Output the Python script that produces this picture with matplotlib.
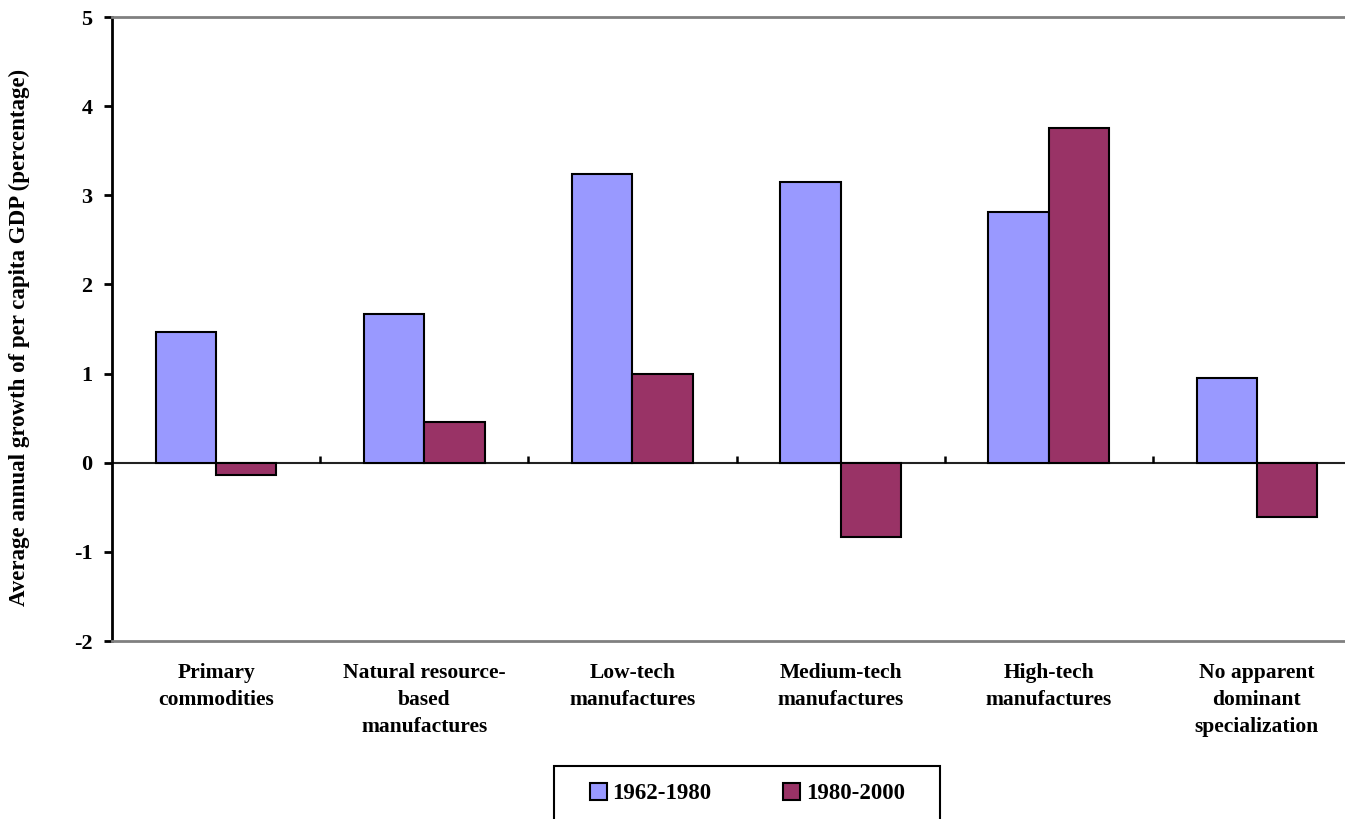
import numpy as np
import matplotlib.pyplot as plt
from matplotlib.patches import Patch, Rectangle

categories = ["Primary\ncommodities", "Natural resource-\nbased\nmanufactures",
              "Low-tech\nmanufactures", "Medium-tech\nmanufactures",
              "High-tech\nmanufactures", "No apparent\ndominant\nspecialization"]
growth_1962_1980 = [1.47, 1.67, 3.24, 3.15, 2.81, 0.95]
growth_1980_2000 = [-0.14, 0.46, 1.00, -0.83, 3.75, -0.61]
series_names = ["1962-1980", "1980-2000"]
y_ticks = [-2, -1, 0, 1, 2, 3, 4, 5]

plt.rcParams['font.family'] = ['Liberation Serif', 'DejaVu Serif']
plt.rcParams['font.weight'] = 'bold'
plt.rcParams['axes.unicode_minus'] = False

fig = plt.figure(figsize=(13.45, 8.19), dpi=100)
ax = fig.add_axes([0.0833, 0.2173, 0.9286, 0.7619])

x = np.arange(len(categories))
w = 0.29
ax.bar(x - w / 2, growth_1962_1980, w, color="#9999FF", edgecolor="black", linewidth=1.5, zorder=3)
ax.bar(x + w / 2, growth_1980_2000, w, color="#993366", edgecolor="black", linewidth=1.5, zorder=3)

ax.set_xlim(-0.5, len(categories) - 0.5)
ax.set_ylim(-2, 5)

# zero line with small tick marks between categories
ax.axhline(0, color="#222222", linewidth=1.5, zorder=2)
ax.vlines(x[:-1] + 0.5, 0, 0.08, color="black", linewidth=1.8, zorder=2)

ax.spines['right'].set_visible(False)
ax.spines['top'].set_color("#808080")
ax.spines['top'].set_linewidth(2)
ax.spines['bottom'].set_color("#808080")
ax.spines['bottom'].set_linewidth(2)
ax.spines['left'].set_color("black")
ax.spines['left'].set_linewidth(2)

ax.set_yticks(y_ticks)
ax.set_yticklabels([str(v) for v in y_ticks])
ax.tick_params(axis='y', direction='out', length=6, width=2, labelsize=16, pad=8)
ax.set_xticks(x)
ax.set_xticklabels(categories, fontsize=15.5, fontweight='bold', linespacing=1.45)
ax.tick_params(axis='x', length=0, pad=16)
for lbl in ax.get_yticklabels():
    lbl.set_fontweight('bold')

ax.set_ylabel("Average annual growth of per capita GDP (percentage)", fontsize=16.5,
              fontweight='bold')
ax.yaxis.set_label_coords(-0.066, 0.487)

handles = [Patch(facecolor="#9999FF", edgecolor="black", linewidth=1.5),
           Patch(facecolor="#993366", edgecolor="black", linewidth=1.5)]
leg = fig.legend(handles, series_names, loc='upper center', bbox_to_anchor=(0.5555, 0.065),
                 ncol=2, frameon=False,
                 prop={'size': 16.5, 'weight': 'bold'}, handlelength=0.75, handleheight=0.75,
                 handletextpad=0.25, columnspacing=3.1, borderpad=0.75, borderaxespad=0)

# legend box, a bit wider than the entries
fig.canvas.draw()
bb = leg.get_window_extent()
box = Rectangle((bb.x0 - 18, bb.y0 - 20), bb.width + 36, bb.height + 20, transform=None,
                facecolor="none", edgecolor="black", linewidth=1.5)
fig.add_artist(box)

fig.savefig("out.png", dpi=100)
